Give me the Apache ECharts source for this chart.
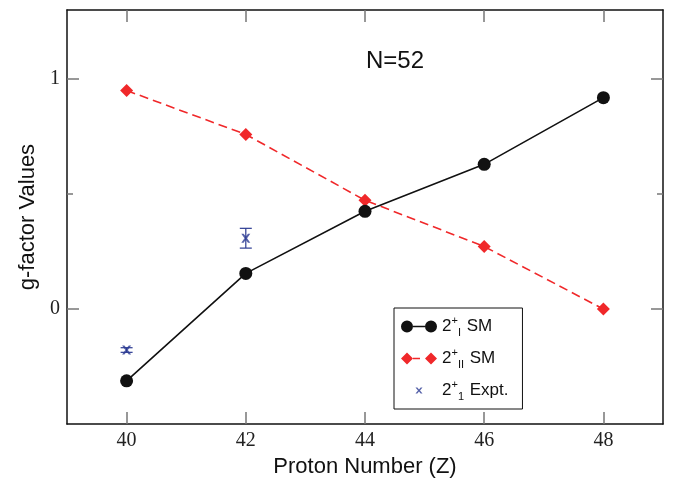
<!DOCTYPE html>
<html>
<head>
<meta charset="utf-8">
<script src="https://cdn.jsdelivr.net/npm/echarts@6/dist/echarts.min.js"></script>
<style>
  html, body { margin: 0; padding: 0; background: #fff; }
  #main { width: 676px; height: 483px; }
</style>
</head>
<body>
<div id="main"></div>
<script>
// 数据
var protonZ = [40, 42, 44, 46, 48];
var smFirst = [-0.312, 0.155, 0.425, 0.629, 0.919];
var smSecond = [0.950, 0.759, 0.473, 0.272, 0.0];
var exptZ = [40, 42];
var exptG = [-0.178, 0.308];
var exptErr = [0.010, 0.043];
var xTicks = [40, 42, 44, 46, 48];
var yTicks = [0, 1];
var yHalfTicks = [0.5];

var myChart = echarts.init(document.getElementById('main'));

// 图例图标
var circlePair = 'path://M0,6 A6,6 0 1,1 12,6 A6,6 0 1,1 0,6 Z M12,5.3 L24,5.3 L24,6.7 L12,6.7 Z M24,6 A6,6 0 1,1 36,6 A6,6 0 1,1 24,6 Z';
var diamondPair = 'path://M0,6 L6,0 L12,6 L6,12 Z M12,5.3 L19,5.3 L19,6.7 L12,6.7 Z M24,6 L30,0 L36,6 L30,12 Z';
var crossPath = 'M2.5,3 L4.3,3 L6,4.9 L7.7,3 L9.5,3 L7,6 L9.5,9 L7.7,9 L6,7.1 L4.3,9 L2.5,9 L5,6 Z';
var crossIcon = 'path://M0,0 L0.01,0 L0,0.01 Z M12,12 L11.99,12 L12,11.99 Z ' + crossPath;

var blue = '#2b3a92';
var red = '#f0282a';

var labelMap = {
    gI: '{n|2}{sup|+}{sub|I}{n| SM}',
    gII: '{n|2}{sup|+}{sub|II}{n| SM}',
    expt: '{n|2}{sup|+}{sub|1}{n| Expt.}'
};

var axisLineStyle = { color: '#111', width: 1.5 };
var tickStyle = { color: '#777', width: 1.5 };

function yAxisDef(pos, ticks, len, showLine, labels) {
    return {
        type: 'value', position: pos, min: -0.5, max: 1.3, interval: 0.5,
        splitLine: { show: false },
        axisLine: { show: showLine, onZero: false, lineStyle: axisLineStyle },
        axisTick: { show: true, inside: true, length: len, customValues: ticks, lineStyle: tickStyle },
        axisLabel: labels ? {
            customValues: yTicks, margin: 7,
            fontFamily: 'Liberation Serif', fontSize: 20, color: '#222'
        } : { show: false }
    };
}

var yLeft = yAxisDef('left', yTicks, 12, true, true);
yLeft.name = 'g-factor Values';
yLeft.nameLocation = 'middle';
yLeft.nameGap = 26;
yLeft.nameTextStyle = { fontFamily: 'Liberation Sans', fontSize: 22, color: '#111' };

var option = {
    animation: false,
    backgroundColor: '#fff',
    grid: { left: 67, top: 10, right: 13, bottom: 55, containLabel: false },
    xAxis: [{
        type: 'value', position: 'bottom', min: 39, max: 49,
        splitLine: { show: false },
        axisLine: { onZero: false, lineStyle: axisLineStyle },
        axisTick: { inside: true, length: 12, customValues: xTicks, lineStyle: tickStyle },
        axisLabel: { customValues: xTicks, margin: 7, fontFamily: 'Liberation Serif', fontSize: 20, color: '#222' },
        name: 'Proton Number (Z)', nameLocation: 'middle', nameGap: 26,
        nameTextStyle: { fontFamily: 'Liberation Sans', fontSize: 22, color: '#111', verticalAlign: 'top' }
    }, {
        type: 'value', position: 'top', min: 39, max: 49,
        splitLine: { show: false },
        axisLine: { onZero: false, lineStyle: axisLineStyle },
        axisTick: { inside: true, length: 12, customValues: xTicks, lineStyle: tickStyle },
        axisLabel: { show: false }
    }],
    yAxis: [
        yLeft,
        yAxisDef('right', yTicks, 12, true, false),
        yAxisDef('left', yHalfTicks, 6, false, false),
        yAxisDef('right', yHalfTicks, 6, false, false)
    ],
    legend: {
        orient: 'vertical', left: 394, top: 308,
        padding: [7, 14, 7, 7],
        itemWidth: 36, itemHeight: 12, itemGap: 9,
        backgroundColor: '#fff', borderColor: '#111', borderWidth: 1,
        symbolKeepAspect: true,
        data: [
            { name: 'gI', icon: circlePair, itemStyle: { color: '#111' } },
            { name: 'gII', icon: diamondPair, itemStyle: { color: red } },
            { name: 'expt', icon: crossIcon, itemStyle: { color: blue } }
        ],
        formatter: function (name) { return labelMap[name]; },
        textStyle: {
            rich: {
                n: { fontFamily: 'Liberation Sans', fontSize: 17, color: '#111', lineHeight: 22 },
                sup: { fontFamily: 'Liberation Sans', fontSize: 11, color: '#111', padding: [0, 0, 12, 0] },
                sub: { fontFamily: 'Liberation Sans', fontSize: 11, color: '#111', padding: [12, 1, 0, 0] }
            }
        }
    },
    graphic: [{
        type: 'text', left: 366, top: 49,
        style: { text: 'N=52', fontFamily: 'Liberation Sans', fontSize: 24, fill: '#111',
                 textAlign: 'center', textVerticalAlign: 'middle' }
    }],
    series: [{
        name: 'gI', type: 'line',
        data: protonZ.map(function (z, i) { return [z, smFirst[i]]; }),
        symbol: 'circle', symbolSize: 13,
        lineStyle: { color: '#111', width: 1.6 },
        itemStyle: { color: '#111' },
        z: 3
    }, {
        name: 'gII', type: 'line',
        data: protonZ.map(function (z, i) { return [z, smSecond[i]]; }),
        symbol: 'diamond', symbolSize: 13,
        lineStyle: { color: red, width: 1.6, type: [9, 5] },
        itemStyle: { color: red },
        z: 2
    }, {
        name: 'expt', type: 'scatter',
        data: exptZ.map(function (z, i) { return [z, exptG[i]]; }),
        symbol: 'path://' + crossPath, symbolSize: 9,
        itemStyle: { color: blue },
        z: 4
    }, {
        name: 'exptErr', type: 'custom',
        data: exptZ.map(function (z, i) { return [z, exptG[i], exptG[i] - exptErr[i], exptG[i] + exptErr[i]]; }),
        encode: { x: 0, y: [2, 3] },
        renderItem: function (params, api) {
            var lo = api.coord([api.value(0), api.value(2)]);
            var hi = api.coord([api.value(0), api.value(3)]);
            var w = 6;
            var st = { stroke: blue, lineWidth: 1.2 };
            return {
                type: 'group',
                children: [
                    { type: 'line', shape: { x1: lo[0], y1: lo[1], x2: hi[0], y2: hi[1] }, style: st },
                    { type: 'line', shape: { x1: lo[0] - w, y1: lo[1], x2: lo[0] + w, y2: lo[1] }, style: st },
                    { type: 'line', shape: { x1: hi[0] - w, y1: hi[1], x2: hi[0] + w, y2: hi[1] }, style: st }
                ]
            };
        },
        z: 4
    }]
};

myChart.setOption(option);

window.addEventListener('resize', function () {
    myChart.resize();
});
</script>
</body>
</html>
